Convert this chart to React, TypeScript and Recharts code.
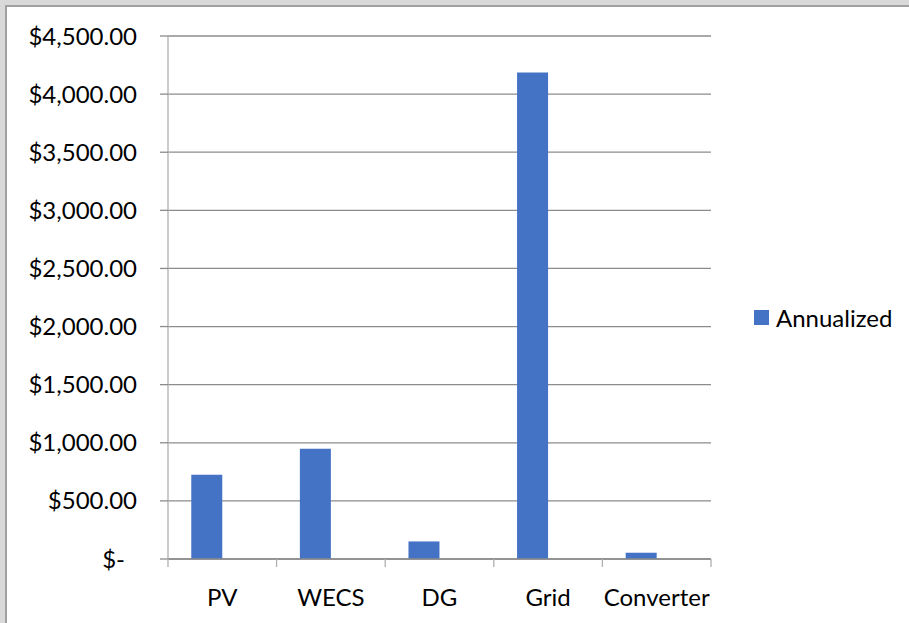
import React from 'react';
import { BarChart, Bar, XAxis, YAxis, CartesianGrid, Legend } from 'recharts';

const categories = ['PV', 'WECS', 'DG', 'Grid', 'Converter'];
const annualized = [725, 948, 151, 4187, 54];
// Excel's second (empty) series: reserves the second slot in each cluster
const blankSeries: (number | null)[] = [null, null, null, null, null];
const yTicks = [0, 500, 1000, 1500, 2000, 2500, 3000, 3500, 4000, 4500];
const seriesName = 'Annualized';

const data = categories.map((c, i) => ({ name: c, annualized: annualized[i], blank: blankSeries[i] }));

const FONT = 'Lato, "Open Sans", sans-serif';
const BLUE = '#4472c4';
const X_TICK_SIZE = 8;
const X_TICK_MARGIN = 22;

const fmt = (v: number) =>
  v === 0 ? '$-' : '$' + v.toLocaleString('en-US', { minimumFractionDigits: 2, maximumFractionDigits: 2 });

const YTick = (props: any) => {
  const { x, y, payload } = props;
  const v = payload.value;
  return (
    <text x={v === 0 ? x - 12 : x} y={y} dy="0.355em" textAnchor="end" fill="#000" fontSize={24} fontFamily={FONT}>
      {fmt(v)}
    </text>
  );
};

// Category label at band centre, tick marks at band edges (Excel "between tick marks")
const XTick = (props: any) => {
  const { x, y, payload, index, visibleTicksCount } = props;
  const half = payload.offset || 0;
  const axisY = y - X_TICK_SIZE - X_TICK_MARGIN;
  const isLast = index === visibleTicksCount - 1;
  const lineProps = { stroke: '#b0b0b0', strokeWidth: 1.3 };
  return (
    <g>
      <line x1={x - half} x2={x - half} y1={axisY} y2={axisY + X_TICK_SIZE} {...lineProps} />
      {isLast && <line x1={x + half} x2={x + half} y1={axisY} y2={axisY + X_TICK_SIZE} {...lineProps} />}
      <text x={x} y={y} dy="0.71em" textAnchor="middle" fill="#000" fontSize={24} fontFamily={FONT}>
        {payload.value}
      </text>
    </g>
  );
};

const LegendContent = () => (
  <div style={{ display: 'flex', alignItems: 'center', height: 30, fontFamily: FONT, fontSize: 24, color: '#000' }}>
    <div style={{ width: 15, height: 15, background: BLUE, marginRight: 7 }} />
    <span>{seriesName}</span>
  </div>
);

export default function App() {
  return (
    <div style={{ position: 'absolute', left: 0, top: 0, width: 909, height: 623, background: '#d9d9d9', overflow: 'hidden' }}>
      <div
        style={{
          position: 'absolute',
          left: 5,
          top: 5,
          width: 904,
          height: 618,
          background: '#fff',
          borderLeft: '2px solid #a0a0a0',
          borderTop: '2px solid #a0a0a0',
        }}
      />
      <div style={{ position: 'absolute', left: 0, top: 0 }}>
        <BarChart
          width={909}
          height={623}
          data={data}
          margin={{ top: 36, right: 198, bottom: 0, left: 0 }}
          barCategoryGap="21.43%"
          barGap={0}
        >
          <CartesianGrid vertical={false} stroke="#8c8c8c" strokeWidth={1.3} />
          <XAxis
            dataKey="name"
            height={64}
            tickLine={false}
            tickSize={X_TICK_SIZE}
            tickMargin={X_TICK_MARGIN}
            axisLine={{ stroke: '#8c8c8c', strokeWidth: 1.3 }}
            tick={<XTick />}
            interval={0}
          />
          <YAxis
            width={168}
            domain={[0, 4500]}
            ticks={yTicks}
            interval={0}
            tickSize={8}
            tickMargin={23}
            axisLine={{ stroke: '#b0b0b0', strokeWidth: 1.3 }}
            tickLine={{ stroke: '#8c8c8c', strokeWidth: 1.3 }}
            tick={<YTick />}
          />
          <Legend
            layout="vertical"
            align="center"
            verticalAlign="middle"
            content={<LegendContent />}
            wrapperStyle={{ left: 754, top: 302, width: 150 }}
          />
          <Bar dataKey="annualized" name={seriesName} fill={BLUE} isAnimationActive={false} />
          <Bar dataKey="blank" fill={BLUE} legendType="none" isAnimationActive={false} />
        </BarChart>
      </div>
    </div>
  );
}
